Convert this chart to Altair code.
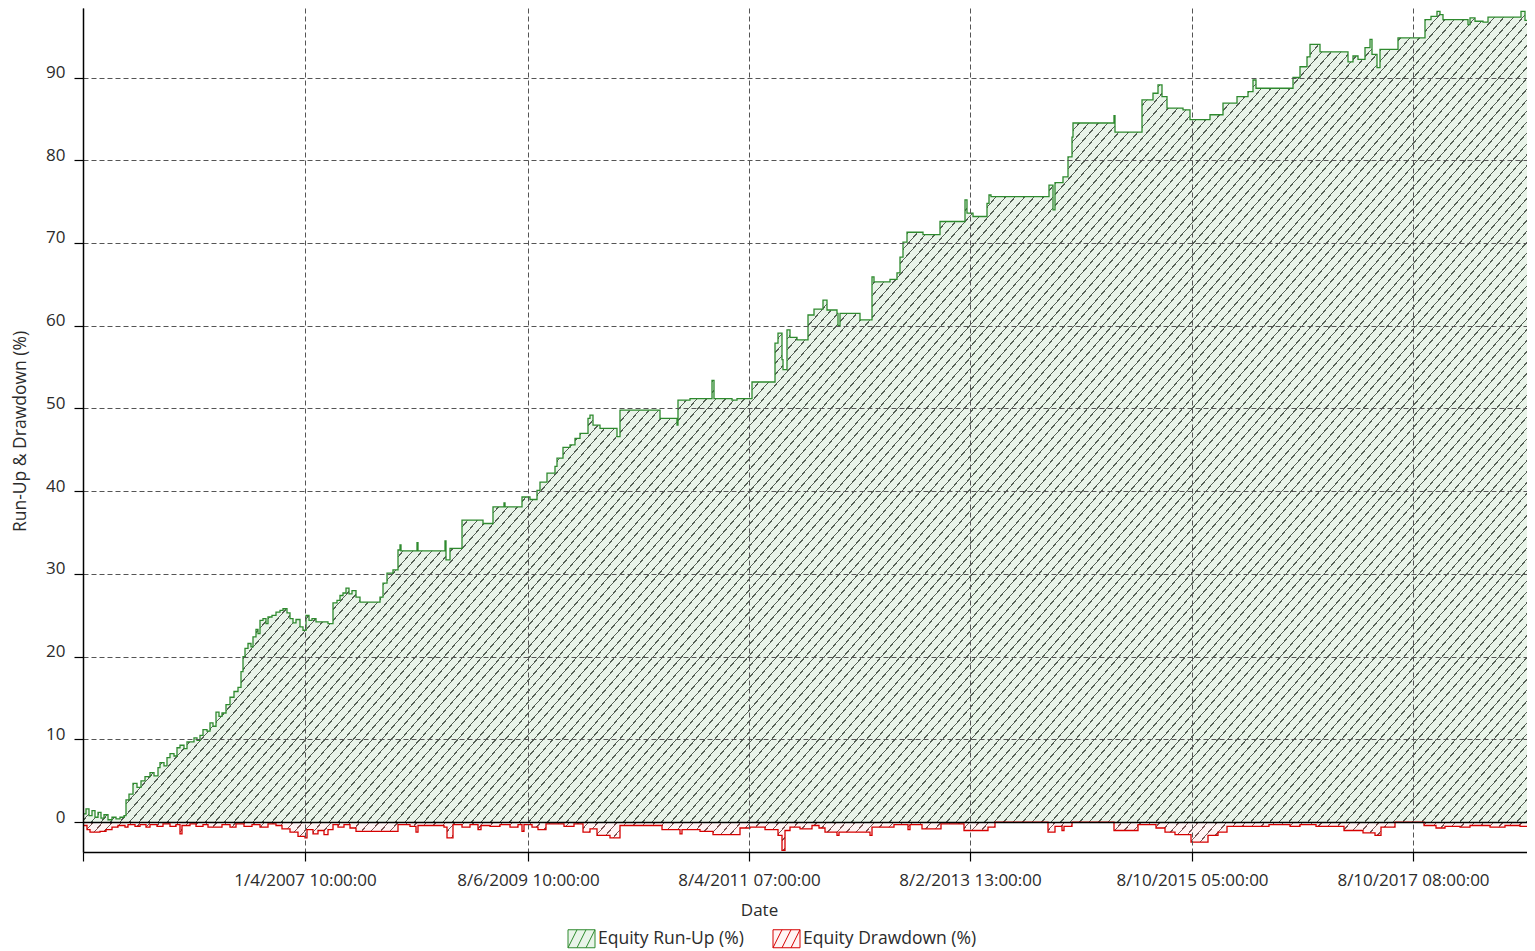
import math
import altair as alt
import pandas as pd

# ---------------- data ----------------
# x = bar / trade index along the horizontal axis
ru_x = [0, 3, 6, 9, 12, 15, 18, 21, 25, 29, 33, 37, 41, 43, 46, 50, 54, 58, 62, 67, 71, 75, 77, 81,
        84, 87, 91, 94, 97, 101, 104, 111, 114, 117, 120, 124, 127, 130, 133, 136, 139, 143, 147,
        151, 155, 158, 160, 162, 165, 168, 170, 173, 175, 177, 180, 183, 185, 189, 193, 197, 200,
        204, 207, 210, 213, 217, 220, 223, 226, 229, 233, 245, 250, 254, 257, 260, 263, 266, 269,
        273, 277, 297, 300, 304, 310, 315, 317, 318, 334, 335, 360, 362, 363, 367, 379, 400, 410,
        421, 422, 437, 439, 447, 454, 457, 464, 472, 474, 480, 487, 492, 497, 505, 507, 510, 517,
        530, 534, 537, 577, 592, 594, 595, 607, 629, 631, 649, 654, 667, 669, 689, 692, 695, 699,
        700, 704, 707, 714, 725, 731, 740, 744, 754, 755, 757, 777, 789, 791, 807, 814, 817, 820,
        824, 840, 857, 882, 884, 890, 904, 906, 908, 964, 966, 970, 972, 980, 985, 989, 990, 1030,
        1031, 1032, 1057, 1059, 1070, 1075, 1079, 1084, 1100, 1107, 1127, 1140, 1154, 1165, 1170,
        1173, 1210, 1217, 1224, 1227, 1237, 1265, 1270, 1275, 1282, 1287, 1289, 1294, 1297, 1315,
        1342, 1348, 1354, 1357, 1360, 1385, 1387, 1392, 1400, 1405, 1437, 1438, 1442, 1452]
ru_y = [1.0, 1.6, 0.8, 1.4, 0.6, 1.2, 0.5, 0.9, 0.3, 0.6, 0.4, 0.6, 0.8, 2.7, 3.4, 4.7, 4.2, 5.0,
        5.5, 6.0, 5.6, 6.6, 7.2, 6.8, 7.8, 8.3, 8.0, 9.0, 9.3, 8.9, 9.7, 10.2, 9.9, 10.5, 11.2,
        11.0, 12.0, 11.6, 13.3, 12.8, 13.2, 14.2, 15.1, 15.8, 16.3, 18.2, 20.0, 21.0, 21.6, 21.2,
        22.4, 23.3, 22.8, 24.4, 24.6, 24.0, 24.8, 25.0, 25.4, 25.6, 25.8, 25.3, 24.6, 24.1, 24.5,
        23.6, 23.2, 25.0, 24.4, 24.6, 24.2, 24.0, 26.5, 26.8, 27.4, 27.7, 28.3, 27.6, 28.0, 27.2,
        26.6, 27.2, 28.9, 30.1, 30.5, 32.9, 33.5, 32.8, 33.8, 32.8, 32.8, 34.0, 31.7, 33.1, 36.5,
        36.1, 38.1, 38.6, 38.1, 38.1, 39.3, 39.0, 40.1, 41.1, 42.2, 43.0, 44.0, 45.3, 45.6, 46.4,
        47.0, 48.8, 49.2, 48.0, 47.6, 47.6, 46.6, 49.8, 48.8, 48.8, 48.0, 51.0, 51.2, 53.4, 51.2,
        51.0, 51.2, 51.2, 53.2, 53.2, 57.9, 59.1, 55.9, 54.7, 59.5, 58.6, 58.3, 61.3, 62.0, 63.1,
        61.9, 61.5, 60.0, 61.5, 60.7, 65.9, 65.3, 65.6, 66.4, 68.3, 70.1, 71.3, 71.0, 72.6, 75.2,
        73.6, 73.2, 74.8, 75.8, 75.6, 75.6, 77.0, 74.0, 77.3, 78.0, 80.4, 82.8, 84.5, 84.5, 85.4,
        83.4, 83.4, 87.3, 88.1, 89.1, 87.7, 86.3, 86.1, 84.9, 85.5, 86.9, 87.7, 88.3, 89.7, 88.7,
        90.0, 91.3, 92.5, 94.0, 93.1, 91.9, 92.6, 92.2, 93.6, 94.6, 92.8, 91.2, 93.4, 94.8, 97.0,
        97.4, 98.0, 97.6, 97.0, 96.4, 97.2, 96.8, 96.7, 97.3, 97.3, 98.0, 96.9, 96.9]

dd_x = [0, 4, 7, 17, 23, 29, 35, 42, 45, 52, 57, 63, 67, 74, 80, 87, 93, 97, 99, 107, 113, 120,
        125, 139, 147, 153, 161, 169, 177, 185, 193, 199, 207, 215, 222, 224, 230, 235, 241, 245,
        250, 255, 261, 267, 273, 315, 327, 333, 335, 361, 364, 370, 379, 387, 395, 398, 407, 417,
        427, 435, 439, 441, 449, 455, 463, 481, 491, 500, 507, 514, 527, 537, 579, 597, 599, 617,
        630, 657, 667, 682, 695, 699, 702, 707, 717, 729, 736, 742, 754, 756, 787, 789, 811, 825,
        827, 839, 858, 881, 905, 912, 965, 972, 979, 981, 989, 1031, 1055, 1073, 1082, 1092, 1108,
        1125, 1135, 1144, 1186, 1207, 1217, 1233, 1261, 1280, 1292, 1298, 1312, 1341, 1353, 1362,
        1377, 1387, 1407, 1422, 1437, 1452]
dd_y = [-0.4, -0.9, -1.2, -1.1, -0.9, -0.6, -0.4, -0.6, -0.3, -0.5, -0.3, -0.6, -0.3, -0.5, -0.2,
        -0.5, -0.3, -1.4, -0.4, -0.2, -0.5, -0.3, -0.6, -0.3, -0.6, -0.2, -0.5, -0.3, -0.6, -0.2,
        -0.4, -0.8, -1.2, -1.7, -1.9, -0.9, -1.4, -1.0, -1.5, -0.9, -0.3, -0.6, -0.3, -0.7, -1.1,
        -0.3, -0.5, -1.2, -0.4, -0.6, -1.9, -0.3, -0.6, -0.3, -0.9, -0.4, -0.5, -0.3, -0.6, -0.3,
        -1.1, -0.3, -0.6, -0.9, -0.2, -0.5, -0.2, -1.2, -0.8, -1.6, -1.9, -0.4, -0.9, -1.4, -0.9,
        -1.1, -1.5, -0.7, -0.6, -0.9, -1.6, -3.4, -1.0, -0.6, -0.8, -0.4, -0.7, -1.2, -1.6, -1.2,
        -1.6, -0.6, -0.3, -0.9, -0.3, -0.8, -0.2, -1.0, -0.6, 0.0, -1.2, -0.5, -1.0, -0.5, 0.0,
        -1.0, -0.3, -0.7, -1.2, -1.5, -2.4, -1.6, -1.2, -0.5, -0.3, -0.5, -0.3, -0.5, -1.0, -1.3,
        -1.6, -0.6, 0.0, -0.4, -0.7, -0.5, -0.6, -0.4, -0.6, -0.4, -0.5, -0.5]

series_names = ["Equity Run-Up (%)", "Equity Drawdown (%)"]
x_tick_values = [0, 222, 445, 666, 887, 1109, 1330]
x_tick_labels = ["", "1/4/2007 10:00:00", "8/6/2009 10:00:00", "8/4/2011 07:00:00",
                 "8/2/2013 13:00:00", "8/10/2015 05:00:00", "8/10/2017 08:00:00"]
y_tick_values = [0, 10, 20, 30, 40, 50, 60, 70, 80, 90]

# ---------------- styling ----------------
W, H = 1444, 844
X_DOM = [0, 1444]
Y_DOM = [-3.6, 98.4]
FONT = "Open Sans"
TXT = "#2b2b2b"
GREEN = "#2e8a2e"
RED = "#d60000"
GREEN_BG = "#e9f4e9"
RED_BG = "#fff4f4"
ICON = "M-1.5,-1H1.5V1H-1.5Z M-1.5,1L-0.5,-1 M-0.5,1L0.5,-1 M0.5,1L1.5,-1"


def hatch(bw, bh, bg, fg, spacing=9.5, slope=1.15, lw=1.0):
    """Diagonal hatch built as a striped linear gradient (objectBoundingBox units)."""
    a = bh / (slope * bw)
    k = (1 + a) / (1 + a * a)
    n = max(1, round(bw * k * (1 + a * a) / spacing))
    f = (lw / math.sin(math.atan(slope))) / spacing
    stops = []
    for i in range(n):
        t0, t1, t2 = i / n, (i + f) / n, (i + 1) / n
        stops += [alt.GradientStop(offset=t0, color=fg), alt.GradientStop(offset=t1, color=fg),
                  alt.GradientStop(offset=t1, color=bg), alt.GradientStop(offset=min(t2, 1.0), color=bg)]
    return alt.LinearGradient(gradient="linear", stops=stops, x1=0, y1=0, x2=k, y2=k * a)


ppu = H / (Y_DOM[1] - Y_DOM[0])
bw = (max(ru_x) - min(ru_x)) * W / (X_DOM[1] - X_DOM[0])
green_fill = hatch(bw, max(ru_y) * ppu, GREEN_BG, "#556055")
red_fill = hatch(bw, -min(dd_y) * ppu, RED_BG, "#7a5555")

label_expr = ""
for v, lab in zip(x_tick_values, x_tick_labels):
    label_expr += f"datum.value == {v} ? '{lab}' : "
label_expr += "''"

xs = alt.Scale(domain=X_DOM, nice=False, zero=False)
ys = alt.Scale(domain=Y_DOM, nice=False, zero=False)

x_axis = alt.Axis(values=x_tick_values, labelExpr=label_expr, title="Date", grid=True,
                  gridColor="#555555", gridDash=[5, 3], gridWidth=1,
                  domainColor="#000000", domainWidth=1.5, tickColor="#000000", tickSize=9,
                  tickWidth=1.2, labelPadding=11, labelFont=FONT, labelFontSize=17,
                  labelColor=TXT, labelFlush=False, labelOverlap=False,
                  titleFont=FONT, titleFontSize=17, titleFontWeight="normal", titleColor=TXT,
                  titleX=676, titleY=58, titleBaseline="middle", zindex=1)
y_axis = alt.Axis(values=y_tick_values, title="Run-Up & Drawdown (%)", grid=True,
                  gridColor={"condition": {"test": "datum.value === 0", "value": "#000000"},
                             "value": "#555555"},
                  gridDash={"condition": {"test": "datum.value === 0", "value": []},
                            "value": [5, 3]},
                  gridWidth={"condition": {"test": "datum.value === 0", "value": 1.5},
                             "value": 1},
                  domainColor="#000000", domainWidth=1.5, tickColor="#000000", tickSize=9,
                  tickWidth=1.2, labelPadding=9, labelFont=FONT, labelFontSize=17,
                  labelColor=TXT, labelBaseline="alphabetic", labelFlush=False,
                  labelOverlap=False, titleFont=FONT, titleFontSize=17.5,
                  titleFontWeight="normal", titleColor=TXT, titleX=-63, titleY=423,
                  titleBaseline="middle", zindex=1)

X = alt.X("x:Q", scale=xs, axis=x_axis)
Y = alt.Y("v:Q", scale=ys, axis=y_axis)

df_ru = pd.DataFrame({"x": ru_x, "v": ru_y})
df_dd = pd.DataFrame({"x": dd_x, "v": dd_y})
df_leg = pd.DataFrame({"series": series_names, "x": [0, 0], "v": [0, 0]})

area_ru = alt.Chart(df_ru).mark_area(interpolate="step-after", fill=green_fill, clip=True).encode(
    x=X, y=Y, y2=alt.datum(0))
area_dd = alt.Chart(df_dd).mark_area(interpolate="step-after", fill=red_fill, clip=True).encode(
    x=X, y=Y, y2=alt.datum(0))
line_ru = alt.Chart(df_ru).mark_line(interpolate="step-after", color=GREEN, strokeWidth=1.3,
                                     clip=True).encode(x=X, y=Y)
line_dd = alt.Chart(df_dd).mark_line(interpolate="step-after", color=RED, strokeWidth=1.3,
                                     clip=True).encode(x=X, y=Y)

leg = alt.Legend(title=None, orient="none", legendX=489, legendY=921, direction="horizontal",
                 symbolType=ICON, symbolSize=324, symbolStrokeWidth=1, symbolOpacity=1,
                 labelFont=FONT, labelFontSize=17.5, labelColor=TXT, labelOffset=7,
                 columnPadding=27, padding=0, offset=0, labelLimit=400)
legend_layer = alt.Chart(df_leg).mark_point(shape=ICON, filled=True, opacity=0).encode(
    x=X, y=Y,
    fill=alt.Fill("series:N", scale=alt.Scale(domain=series_names, range=[GREEN_BG, RED_BG]),
                  legend=leg),
    stroke=alt.Stroke("series:N", scale=alt.Scale(domain=series_names, range=[GREEN, RED]),
                      legend=leg),
)

chart = alt.layer(area_ru, area_dd, line_ru, line_dd, legend_layer).properties(
    width=W, height=H,
    autosize=alt.AutoSizeParams(type="none"),
    padding={"left": 75, "top": 0, "right": 0, "bottom": 99},
    background="white",
).configure_view(stroke=None)

chart.save("out.html", embed_options={"renderer": "svg", "actions": False})
